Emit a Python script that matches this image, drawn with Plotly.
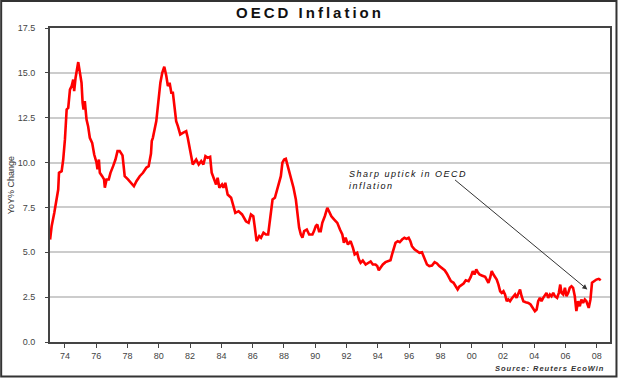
import plotly.graph_objects as go

# Decimal years (x) and OECD YoY % change (y)
years = [
    1973.05, 1973.15, 1973.32, 1973.47, 1973.57, 1973.62, 1973.79, 1973.89, 1974.00, 1974.11,
    1974.21, 1974.32, 1974.43, 1974.53, 1974.59, 1974.68, 1974.78, 1974.85, 1974.96, 1975.06,
    1975.13, 1975.19, 1975.27, 1975.38, 1975.48, 1975.59, 1975.74, 1975.87, 1976.02, 1976.08,
    1976.17, 1976.23, 1976.38, 1976.50, 1976.55, 1976.66, 1976.80, 1976.91, 1977.08, 1977.23,
    1977.36, 1977.50, 1977.68, 1977.82, 1978.03, 1978.25, 1978.41, 1978.57, 1978.78, 1978.99,
    1979.20, 1979.35, 1979.50, 1979.55, 1979.62, 1979.84, 1979.94, 1980.10, 1980.22, 1980.35,
    1980.48, 1980.58, 1980.69, 1980.80, 1980.90, 1981.01, 1981.11, 1981.22, 1981.37, 1981.54,
    1981.75, 1981.85, 1981.96, 1982.07, 1982.17, 1982.39, 1982.55, 1982.71, 1982.85, 1982.98,
    1983.13, 1983.28, 1983.38, 1983.55, 1983.66, 1983.76, 1983.87, 1984.04, 1984.13, 1984.25,
    1984.40, 1984.62, 1984.76, 1984.89, 1985.10, 1985.32, 1985.57, 1985.74, 1985.89, 1986.04,
    1986.12, 1986.20, 1986.25, 1986.42, 1986.53, 1986.69, 1986.85, 1986.99, 1987.12, 1987.27,
    1987.42, 1987.55, 1987.69, 1987.80, 1987.90, 1988.01, 1988.12, 1988.22, 1988.33, 1988.48,
    1988.61, 1988.76, 1988.86, 1988.97, 1989.08, 1989.18, 1989.29, 1989.46, 1989.61, 1989.82,
    1989.92, 1990.03, 1990.13, 1990.24, 1990.35, 1990.45, 1990.61, 1990.77, 1990.88, 1991.03,
    1991.20, 1991.41, 1991.58, 1991.73, 1991.83, 1991.94, 1992.09, 1992.26, 1992.41, 1992.52,
    1992.68, 1992.79, 1992.90, 1993.04, 1993.22, 1993.38, 1993.54, 1993.68, 1993.85, 1993.96,
    1994.06, 1994.17, 1994.32, 1994.49, 1994.70, 1994.81, 1994.91, 1995.02, 1995.13, 1995.27,
    1995.40, 1995.55, 1995.70, 1995.83, 1995.97, 1996.08, 1996.18, 1996.34, 1996.50, 1996.66,
    1996.82, 1996.97, 1997.14, 1997.29, 1997.46, 1997.63, 1997.78, 1997.93, 1998.10, 1998.27,
    1998.41, 1998.52, 1998.67, 1998.84, 1998.99, 1999.10, 1999.20, 1999.33, 1999.48, 1999.62,
    1999.80, 1999.94, 2000.07, 2000.18, 2000.29, 2000.39, 2000.50, 2000.64, 2000.86, 2000.96,
    2001.07, 2001.18, 2001.28, 2001.39, 2001.50, 2001.60, 2001.71, 2001.82, 2001.92, 2002.03,
    2002.13, 2002.24, 2002.34, 2002.45, 2002.55, 2002.66, 2002.77, 2002.87, 2002.98, 2003.09,
    2003.19, 2003.30, 2003.45, 2003.62, 2003.76, 2003.89, 2004.04, 2004.15, 2004.25, 2004.36,
    2004.46, 2004.57, 2004.68, 2004.78, 2004.89, 2005.00, 2005.10, 2005.21, 2005.32, 2005.46,
    2005.57, 2005.66, 2005.74, 2005.85, 2005.96, 2006.06, 2006.17, 2006.27, 2006.38, 2006.48,
    2006.59, 2006.69, 2006.80, 2006.91, 2007.01, 2007.12, 2007.23, 2007.33, 2007.48, 2007.59,
    2007.69, 2007.80, 2007.97, 2008.12, 2008.25,
]
inflation = [
    5.71, 6.45, 7.20, 7.94, 8.50, 9.43, 9.52, 10.17, 11.29, 12.96,
    13.05, 14.07, 14.26, 14.63, 13.98, 14.73, 15.19, 15.60, 15.00, 14.45,
    13.33, 12.96, 13.42, 12.40, 12.03, 11.38, 11.10, 10.45, 9.99, 9.62,
    10.17, 9.43, 9.24, 9.06, 8.60, 9.06, 9.06, 9.43, 9.80, 10.17,
    10.64, 10.64, 10.40, 9.24, 9.06, 8.87, 8.68, 8.96, 9.24, 9.43,
    9.71, 9.80, 10.50, 11.20, 11.38, 12.31, 13.14, 14.45, 15.00, 15.34,
    14.82, 14.26, 14.45, 13.89, 13.89, 12.96, 12.31, 12.03, 11.57, 11.66,
    11.75, 11.38, 10.73, 10.36, 9.89, 10.17, 9.89, 10.08, 9.89, 10.36,
    10.27, 10.32, 9.43, 8.96, 8.78, 9.15, 8.60, 8.78, 8.60, 8.87,
    8.22, 8.04, 7.66, 7.20, 7.29, 7.11, 6.73, 6.64, 7.11, 7.01,
    6.50, 6.00, 5.62, 5.90, 5.81, 6.09, 5.99, 5.99, 6.83, 7.94,
    8.04, 8.41, 8.87, 9.24, 9.99, 10.17, 10.21, 9.89, 9.52, 9.15,
    8.60, 7.94, 7.01, 6.36, 5.99, 5.81, 6.18, 6.27, 5.99, 5.99,
    6.18, 6.45, 6.55, 6.18, 6.18, 6.64, 7.01, 7.48, 7.29, 7.01,
    6.83, 6.64, 6.27, 5.99, 5.53, 5.81, 5.43, 5.62, 5.25, 4.88,
    4.97, 4.60, 4.41, 4.54, 4.32, 4.41, 4.49, 4.32, 4.32, 4.23,
    4.00, 4.14, 4.32, 4.45, 4.50, 4.56, 4.88, 5.25, 5.53, 5.62,
    5.56, 5.71, 5.81, 5.75, 5.81, 5.62, 5.34, 5.16, 5.06, 4.97,
    5.00, 4.69, 4.32, 4.23, 4.26, 4.45, 4.38, 4.23, 4.10, 4.00,
    3.82, 3.67, 3.39, 3.30, 3.08, 2.93, 3.08, 3.15, 3.26, 3.44,
    3.39, 3.63, 3.95, 3.76, 4.04, 3.89, 3.76, 3.71, 3.63, 3.48,
    3.30, 3.58, 3.95, 3.76, 3.58, 3.48, 3.20, 2.83, 2.74, 2.83,
    2.65, 2.27, 2.37, 2.27, 2.41, 2.55, 2.65, 2.46, 2.65, 2.93,
    2.55, 2.27, 2.22, 2.18, 2.09, 1.90, 1.72, 1.81, 2.27, 2.46,
    2.27, 2.46, 2.65, 2.74, 2.46, 2.65, 2.55, 2.74, 2.55, 2.46,
    2.74, 3.20, 2.74, 2.65, 3.02, 2.55, 2.74, 3.02, 3.11, 3.02,
    2.55, 1.72, 2.27, 1.99, 2.37, 2.18, 2.37, 2.27, 1.90, 2.37,
    3.30, 3.39, 3.48, 3.52, 3.44,
]

tick_years = list(range(1974, 2009, 2))
tick_labels = ["74", "76", "78", "80", "82", "84", "86", "88", "90", "92",
               "94", "96", "98", "00", "02", "04", "06", "08"]
y_ticks = [0.0, 2.5, 5.0, 7.5, 10.0, 12.5, 15.0, 17.5]

title_text = "OECD Inflation"
y_title = "YoY% Change"
note_text = "Sharp uptick in OECD<br>inflation"
source_text = "Source: Reuters EcoWin"
arrow_tail = (1998.84, 9.1)
arrow_head = (2007.39, 2.93)

FONT = "Liberation Sans, Arial, sans-serif"

fig = go.Figure()
fig.add_trace(go.Scatter(
    x=years, y=inflation, mode="lines",
    line=dict(color="#ff0000", width=2.6),
    hoverinfo="skip", showlegend=False,
))

fig.update_layout(
    width=620, height=378,
    margin=dict(l=50, r=8, t=28, b=36),
    paper_bgcolor="white", plot_bgcolor="white",
    font=dict(family=FONT, size=9, color="#333333"),
    title=dict(
        text='<span style="letter-spacing:3px">' + title_text + '</span>',
        font=dict(family=FONT, size=15, color="#111111", weight="bold"),
        xref="container", x=0.5, xanchor="center",
        yref="container", y=1 - 13 / 378, yanchor="middle",
    ),
    xaxis=dict(
        range=[1973.045, 2008.84],
        tickvals=tick_years, ticktext=tick_labels,
        ticks="outside", ticklen=4, tickwidth=1, tickcolor="#444444",
        showgrid=False, zeroline=False,
        showline=True, linecolor="#444444", linewidth=2, mirror=True,
        tickfont=dict(family=FONT, size=9, color="#444444"),
        fixedrange=True,
    ),
    yaxis=dict(
        range=[0, 17.5],
        tickvals=y_ticks, tickformat=".1f",
        ticks="outside", ticklen=3, tickwidth=1, tickcolor="#444444",
        ticklabelstandoff=8,
        showgrid=True, gridcolor="#cccccc", gridwidth=2,
        zeroline=False,
        showline=True, linecolor="#444444", linewidth=2, mirror=True,
        tickfont=dict(family=FONT, size=9, color="#444444"),
        fixedrange=True,
    ),
)

# y-axis title
fig.add_annotation(
    text=y_title, xref="paper", yref="paper",
    x=(11 - 50) / 562, y=0.5, textangle=-90, showarrow=False,
    xanchor="center", yanchor="middle",
    font=dict(family=FONT, size=9, color="#333333"),
)

# annotation text
fig.add_annotation(
    text='<span style="letter-spacing:1.5px"><i>' + note_text + '</i></span>',
    xref="paper", yref="paper",
    x=(348 - 50) / 562, y=(342 - 167) / 314,
    xanchor="left", yanchor="top", align="left", showarrow=False,
    font=dict(family=FONT, size=9, color="#111111"),
)

# arrow
fig.add_annotation(
    x=arrow_head[0], y=arrow_head[1], ax=arrow_tail[0], ay=arrow_tail[1],
    xref="x", yref="y", axref="x", ayref="y",
    text="", showarrow=True, arrowhead=2, arrowsize=1, arrowwidth=1,
    arrowcolor="#333333",
)

# source
fig.add_annotation(
    text='<span style="letter-spacing:1px"><i><b>' + source_text + '</b></i></span>',
    xref="paper", yref="paper",
    x=(608 - 50) / 562, y=(342 - 368) / 314,
    xanchor="right", yanchor="middle", showarrow=False,
    font=dict(family=FONT, size=7.5, color="#333333"),
)

# outer frame
fig.add_shape(
    type="rect", xref="paper", yref="paper",
    x0=(1 - 50) / 562, x1=(618.5 - 50) / 562,
    y0=(342 - 376.5) / 314, y1=(342 - 1) / 314,
    line=dict(color="#333333", width=2), fillcolor="rgba(0,0,0,0)",
    layer="above",
)

fig.write_html(
    "out.html",
    config={"displayModeBar": False},
    post_script="document.body.style.margin='0';document.body.style.overflow='hidden';",
)
